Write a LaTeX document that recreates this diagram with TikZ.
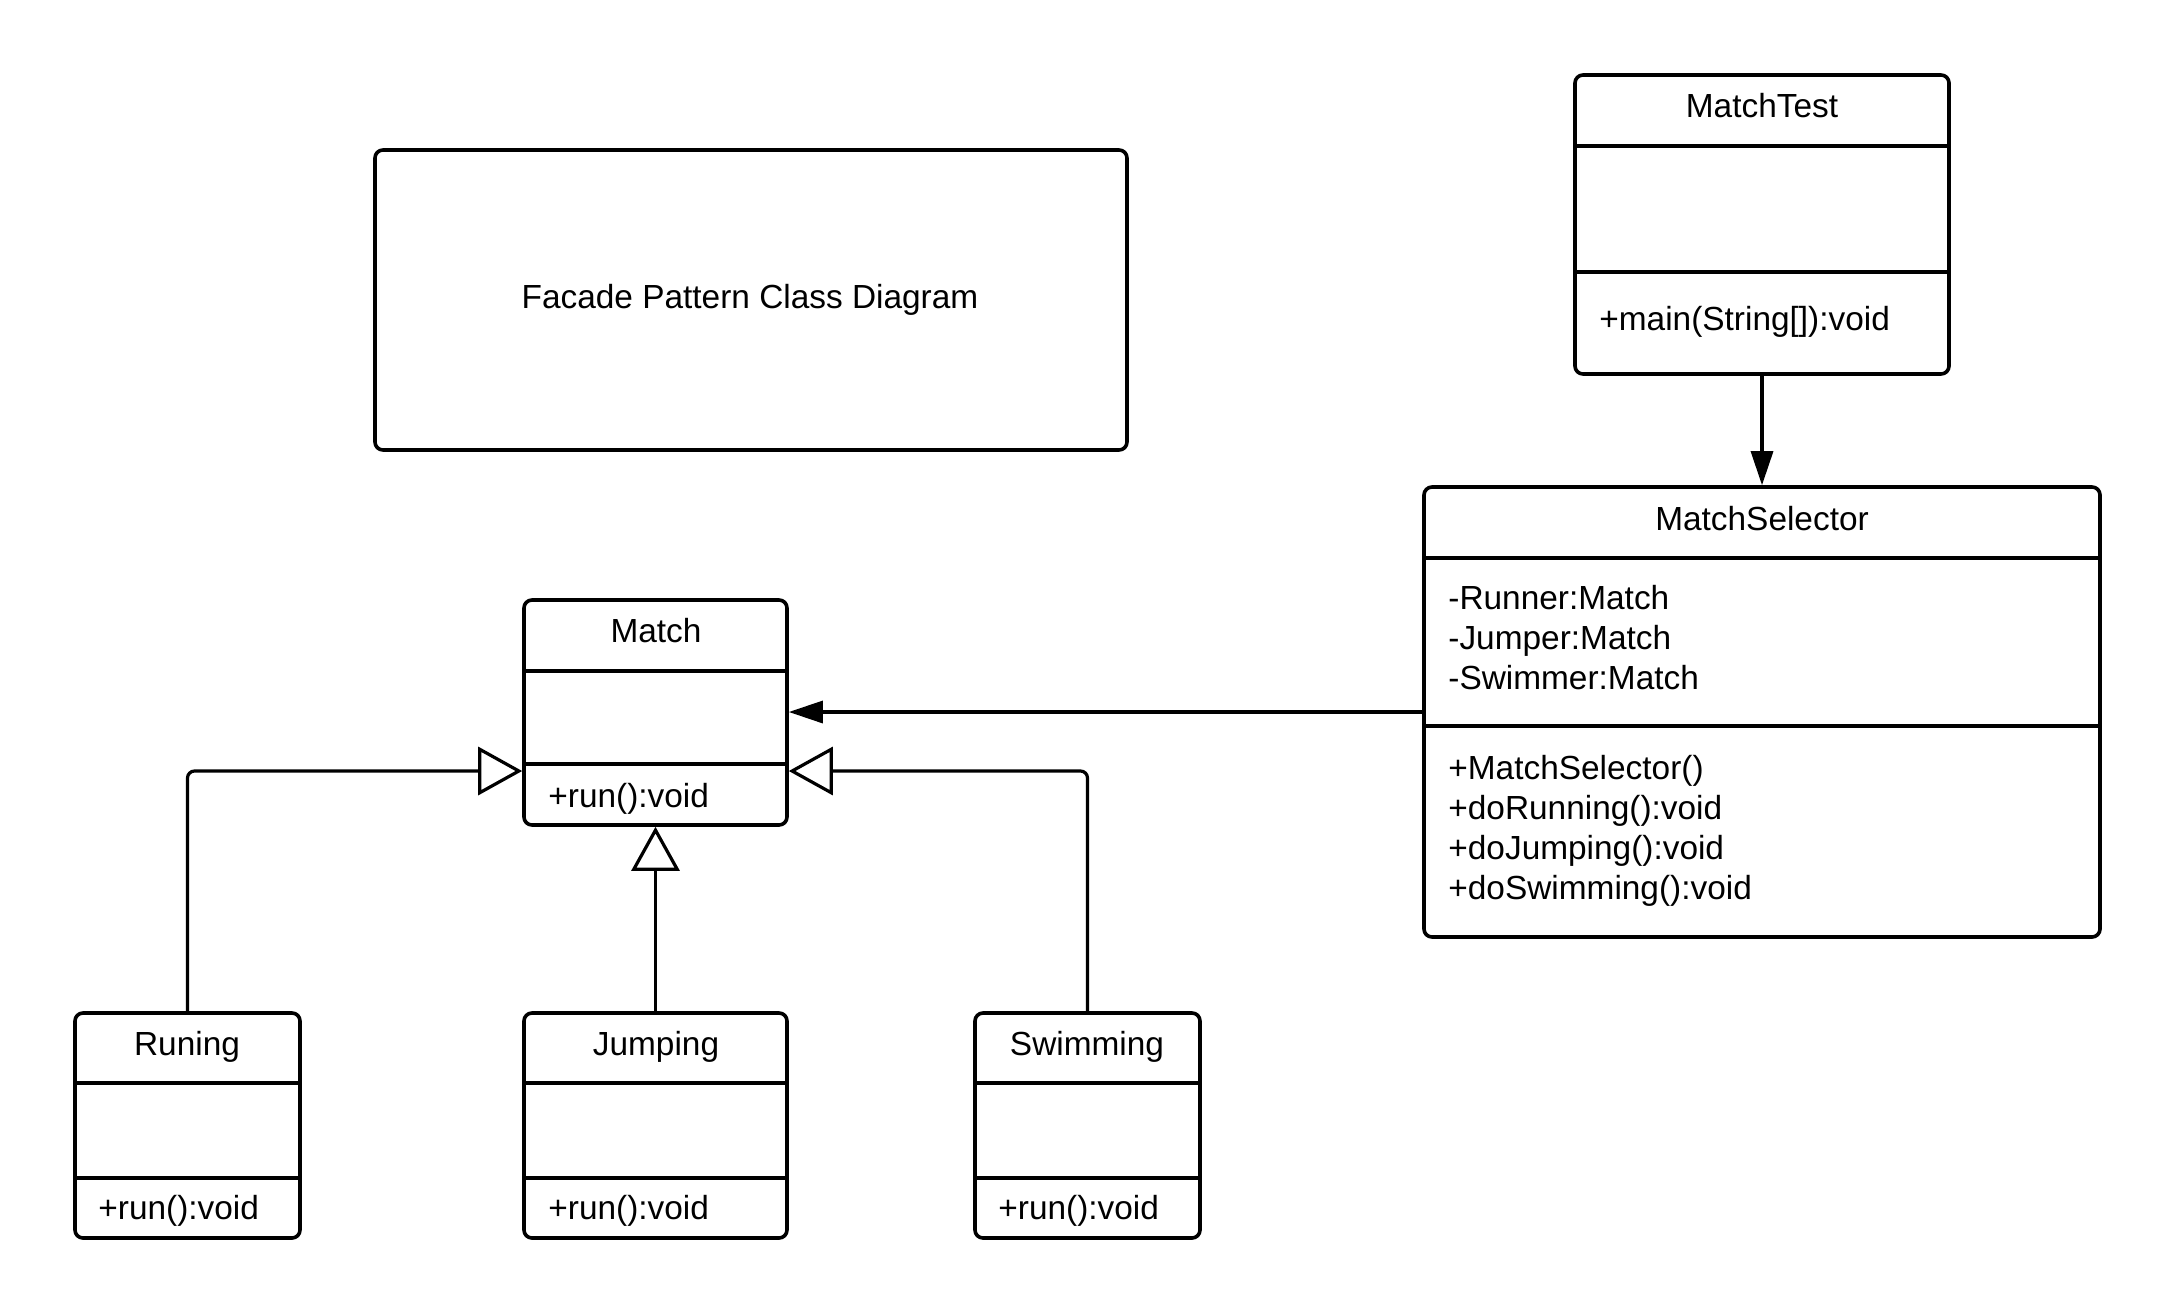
\documentclass[tikz,border=0pt]{standalone}
\usepackage{fontspec}
\setmainfont{Liberation Sans}
\usetikzlibrary{arrows.meta,fit}
\tikzset{
  classbox/.style={draw, line width=1.8pt, rounded corners=4pt, inner sep=0pt},
  divider/.style={line width=1.8pt},
  ttl/.style={anchor=base, font=\fontsize{16.7}{20}\selectfont, inner sep=0pt},
  member/.style={anchor=base west, font=\fontsize{16.7}{20}\selectfont, inner sep=0pt},
  assoc/.style={line width=1.6pt, -{Triangle[length=17pt,width=11pt]}},
  gen/.style={line width=1.6pt, rounded corners=3.5pt, -{Triangle[open,length=22pt,width=24pt,fill=white]}},
}
\begin{document}
\begin{tikzpicture}[x=0.5pt,y=-0.5pt]
\useasboundingbox (0,0) rectangle (2175,1313);
\fill[white] (0,0) rectangle (2175,1313);

% Title box
\node[classbox, fit={(375,150) (1127,450)}] (facade) {};
\node[ttl] (facadetxt) at (750,308) {Facade Pattern Class Diagram};

% MatchTest
\node[classbox, fit={(1575,75) (1949,374)}] (test) {};
\draw[divider] (1575,146) -- (1949,146);
\draw[divider] (1575,272) -- (1949,272);
\node[ttl] (testname) at (1762,117) {MatchTest};
\node[member] (testm1) at (1599,330) {+main(String[]):void};

% MatchSelector
\node[classbox, fit={(1424,487) (2100,937)}] (sel) {};
\draw[divider] (1424,558) -- (2100,558);
\draw[divider] (1424,726) -- (2100,726);
\node[ttl] (selname) at (1762,530) {MatchSelector};
\node[member] (sela1) at (1448,609) {-Runner:Match};
\node[member] (sela2) at (1448,649) {-Jumper:Match};
\node[member] (sela3) at (1448,689) {-Swimmer:Match};
\node[member] (selm1) at (1448,779) {+MatchSelector()};
\node[member] (selm2) at (1448,819) {+doRunning():void};
\node[member] (selm3) at (1448,859) {+doJumping():void};
\node[member] (selm4) at (1448,899) {+doSwimming():void};

% Match
\node[classbox, fit={(524,600) (787,825)}] (match) {};
\draw[divider] (524,671) -- (787,671);
\draw[divider] (524,764) -- (787,764);
\node[ttl] (matchname) at (656,642) {Match};
\node[member] (matchm1) at (548,807) {+run():void};

% Runing
\node[classbox, fit={(75,1013) (300,1238)}] (run) {};
\draw[divider] (75,1083) -- (300,1083);
\draw[divider] (75,1178) -- (300,1178);
\node[ttl] (runname) at (187,1055) {Runing};
\node[member] (runm1) at (98,1219) {+run():void};

% Jumping
\node[classbox, fit={(524,1013) (787,1238)}] (jump) {};
\draw[divider] (524,1083) -- (787,1083);
\draw[divider] (524,1178) -- (787,1178);
\node[ttl] (jumpname) at (656,1055) {Jumping};
\node[member] (jumpm1) at (548,1219) {+run():void};

% Swimming
\node[classbox, fit={(975,1013) (1200,1238)}] (swim) {};
\draw[divider] (975,1083) -- (1200,1083);
\draw[divider] (975,1178) -- (1200,1178);
\node[ttl] (swimname) at (1087,1055) {Swimming};
\node[member] (swimm1) at (998,1219) {+run():void};

% Connectors
\draw[assoc] (test.south) -- (sel.north);
\draw[assoc] (sel.west) -- (match.east |- sel.west);
\draw[gen] (run.north) |- ([yshift=-29.25pt]match.west);
\draw[gen] (swim.north) |- ([yshift=-29.25pt]match.east);
\draw[gen] (jump.north) -- (match.south);
\end{tikzpicture}
\end{document}
